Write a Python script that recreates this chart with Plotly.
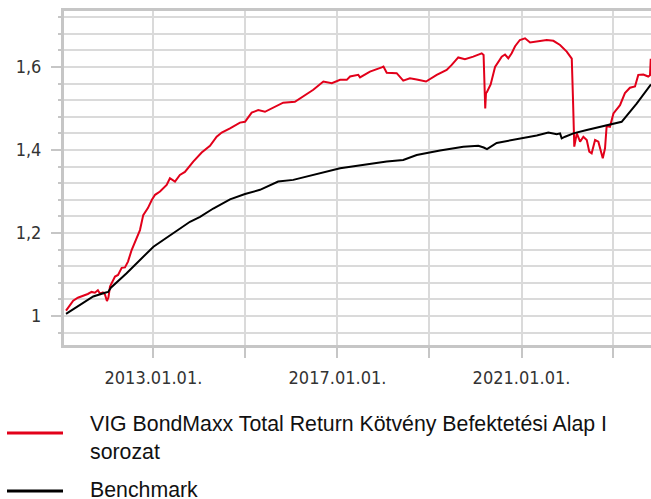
import plotly.graph_objects as go

fund_name = "VIG BondMaxx Total Return Kötvény Befektetési Alap I<br>sorozat"
bench_name = "Benchmark"

fund_dates = [
    "2011-02-07", "2011-03-10", "2011-04-05", "2011-05-12", "2011-06-23", "2011-07-30",
    "2011-08-29", "2011-09-24", "2011-10-18", "2011-11-03", "2011-11-27", "2011-12-13",
    "2011-12-29", "2012-01-10", "2012-01-22", "2012-03-02", "2012-03-26", "2012-04-24",
    "2012-05-20", "2012-06-13", "2012-07-12", "2012-08-15", "2012-09-16", "2012-10-12",
    "2012-11-18", "2012-12-20", "2013-01-14", "2013-02-22", "2013-04-16", "2013-05-12",
    "2013-06-21", "2013-07-30", "2013-09-08", "2013-11-13", "2014-01-19", "2014-03-26",
    "2014-05-18", "2014-06-27", "2014-09-01", "2014-11-19", "2014-12-29", "2015-02-20",
    "2015-04-13", "2015-06-05", "2015-08-24", "2015-10-28", "2016-01-29", "2016-04-18",
    "2016-06-23", "2016-09-11", "2016-11-17", "2017-01-22", "2017-03-16", "2017-04-11",
    "2017-06-15", "2017-06-29", "2017-09-16", "2017-12-18", "2018-01-01", "2018-01-27",
    "2018-04-16", "2018-06-07", "2018-07-30", "2018-09-22", "2018-12-05", "2019-02-28",
    "2019-05-18", "2019-06-27", "2019-08-18", "2019-10-10", "2019-12-15", "2020-02-20",
    "2020-03-06", "2020-03-19", "2020-03-25", "2020-04-02", "2020-05-01", "2020-06-05",
    "2020-07-28", "2020-08-23", "2020-09-18", "2020-10-15", "2020-11-11", "2020-12-19",
    "2021-01-29", "2021-03-10", "2021-05-02", "2021-07-20", "2021-09-11", "2021-11-03",
    "2021-12-26", "2022-02-04", "2022-02-14", "2022-02-24", "2022-03-16", "2022-04-11",
    "2022-05-07", "2022-06-03", "2022-06-23", "2022-07-12", "2022-08-08", "2022-09-03",
    "2022-10-08", "2022-10-26", "2022-11-08", "2022-12-04", "2023-01-01", "2023-02-22",
    "2023-04-02", "2023-05-12", "2023-06-21", "2023-07-17", "2023-08-26", "2023-10-04",
    "2023-10-18", "2023-10-24",
]
fund_values = [
    1.013, 1.025, 1.037, 1.044, 1.048, 1.053,
    1.058, 1.056, 1.062, 1.054, 1.057, 1.052,
    1.036, 1.045, 1.071, 1.095, 1.099, 1.116,
    1.117, 1.131, 1.159, 1.185, 1.207, 1.243,
    1.260, 1.280, 1.292, 1.300, 1.316, 1.332,
    1.324, 1.340, 1.347, 1.372, 1.394, 1.410,
    1.432, 1.442, 1.452, 1.466, 1.468, 1.490,
    1.496, 1.492, 1.504, 1.514, 1.516, 1.533,
    1.545, 1.565, 1.561, 1.569, 1.569, 1.577,
    1.581, 1.575, 1.589, 1.599, 1.601, 1.586,
    1.585, 1.567, 1.573, 1.570, 1.565, 1.581,
    1.593, 1.605, 1.623, 1.619, 1.625, 1.633,
    1.629, 1.500, 1.537, 1.540, 1.558, 1.600,
    1.625, 1.630, 1.621, 1.633, 1.650, 1.665,
    1.669, 1.659, 1.662, 1.665, 1.663, 1.653,
    1.637, 1.620, 1.520, 1.408, 1.440, 1.420,
    1.432, 1.424, 1.396, 1.392, 1.424, 1.420,
    1.380, 1.404, 1.458, 1.456, 1.488, 1.508,
    1.537, 1.550, 1.553, 1.581, 1.582, 1.577,
    1.580, 1.620,
]

bench_dates = [
    "2011-02-07", "2011-09-11", "2011-12-13", "2012-01-08", "2012-01-29", "2012-06-02",
    "2013-01-01", "2013-05-12", "2013-10-18", "2014-01-06", "2014-04-21", "2014-09-01",
    "2014-12-29", "2015-04-27", "2015-09-18", "2016-01-16", "2016-07-20", "2016-11-29",
    "2017-01-22", "2018-01-27", "2018-06-07", "2018-09-22", "2019-03-26", "2019-09-27",
    "2020-01-24", "2020-03-07", "2020-04-02", "2020-06-18", "2020-10-28", "2021-01-16",
    "2021-05-02", "2021-08-02", "2021-10-08", "2021-11-03", "2021-11-16", "2021-12-13",
    "2022-02-17", "2022-06-03", "2022-10-12", "2023-03-07", "2023-07-04", "2023-10-26",
]
bench_values = [
    1.005, 1.047, 1.056, 1.058, 1.068, 1.103,
    1.167, 1.195, 1.227, 1.239, 1.259, 1.281,
    1.294, 1.304, 1.324, 1.328, 1.342, 1.352,
    1.356, 1.372, 1.376, 1.388, 1.399, 1.408,
    1.410, 1.406, 1.402, 1.417, 1.424, 1.430,
    1.435, 1.442, 1.438, 1.440, 1.428, 1.432,
    1.440, 1.448, 1.458, 1.468, 1.512, 1.558,
]

x_range = ["2011-01-22", "2023-10-26"]
y_range = [0.9301, 1.7349]

fund_color = "#e2001a"
bench_color = "#000000"
grid_color = "#dadada"
axis_color = "#c6c6c6"

# layout geometry (page pixels; the page body margin is removed in post_script)
W, H = 651, 499
ML, MT = 64, 11
MB = H - 345
PW, PH = W - ML, H - MT - MB


def px_x(p):
    return (p - ML) / PW


def px_y(p):
    return (H - MB - p) / PH


fig = go.Figure()
fig.add_trace(go.Scatter(x=fund_dates, y=fund_values, mode="lines", name=fund_name,
                         line=dict(color=fund_color, width=2)))
fig.add_trace(go.Scatter(x=bench_dates, y=bench_values, mode="lines", name=bench_name,
                         line=dict(color=bench_color, width=2)))

legend_font = dict(family="Liberation Sans, Arial", size=21.3, color="#111111")
legend_items = [(fund_name, fund_color, 433, 437.5), (bench_name, bench_color, 491, 490)]
shapes = []
annotations = []
for name, color, ly, ty in legend_items:
    shapes.append(dict(type="line", xref="paper", yref="paper",
                       x0=px_x(7), x1=px_x(63), y0=px_y(ly), y1=px_y(ly),
                       line=dict(color=color, width=3)))
    annotations.append(dict(xref="paper", yref="paper", x=px_x(88), y=px_y(ty),
                            xanchor="left", yanchor="middle", align="left",
                            showarrow=False, text=name, font=legend_font))

fig.update_layout(
    width=W, height=H,
    margin=dict(l=ML, r=0, t=MT, b=MB, pad=0, autoexpand=False),
    paper_bgcolor="white", plot_bgcolor="white",
    separators=", ",
    font=dict(family="DejaVu Sans Condensed, DejaVu Sans", size=18, color="#333333"),
    showlegend=False,
    shapes=shapes,
    annotations=annotations,
    xaxis=dict(type="date", range=x_range, tick0="2013-01-01", dtick="M48",
               tickformat="%Y.%m.%d.", ticks="outside", ticklen=10, tickwidth=2,
               tickcolor=axis_color, showgrid=True, gridcolor=grid_color, gridwidth=2,
               showline=True, linecolor=axis_color, linewidth=3, mirror=True,
               zeroline=False, ticklabelstandoff=4,
               minor=dict(tick0="2013-01-01", dtick="M24", ticks="outside", ticklen=10,
                          tickwidth=2, tickcolor=axis_color, showgrid=True,
                          gridcolor=grid_color, gridwidth=2)),
    yaxis=dict(range=y_range, tick0=1, dtick=0.2, ticks="outside", ticklen=10, tickwidth=2,
               tickcolor=axis_color, showgrid=True, gridcolor=grid_color, gridwidth=2,
               showline=True, linecolor=axis_color, linewidth=3, zeroline=False,
               ticklabelstandoff=6,
               minor=dict(tick0=1, dtick=0.04, ticks="outside", ticklen=3, tickwidth=2,
                          tickcolor=axis_color, showgrid=True, gridcolor=grid_color,
                          gridwidth=2)),
)

fig.write_html("out.html", config={"displayModeBar": False},
               post_script="document.body.style.margin = '0px';")
